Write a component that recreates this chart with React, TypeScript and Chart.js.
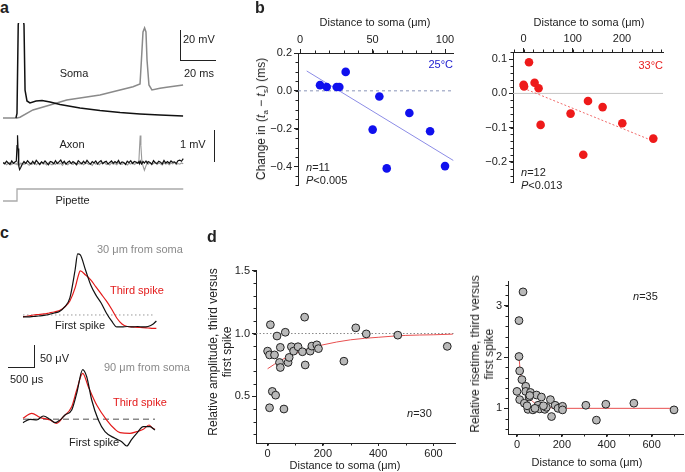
import React, { useEffect, useRef } from "react";
import { Chart, registerables } from "chart.js";

Chart.register(...registerables);

const FONT = '"Liberation Sans", Arial, Helvetica, sans-serif';
Chart.defaults.font.family = FONT;
Chart.defaults.color = "#222";

// ---------------- Panel a: soma traces (ms, mV) ----------------
const somaBlackT = [7.4, 8.0, 8.7, 10.3, 12.0, 12.6, 13.7, 15.4, 18.9, 22.3, 26.9, 32.6, 44, 55.4, 66.9, 78.3, 89.7, 102.9];
const somaBlackV = [-70, -67, -10, 5, -10, -52, -59, -60.3, -59, -58.7, -59.7, -61.3, -63.5, -65.2, -66.5, -67.4, -68.1, -68.7];
const somaGrayT = [0, 8, 9.7, 17.1, 26.9, 36.4, 55.4, 74.3, 78.3, 79.1, 80.0, 80.9, 81.7, 82.3, 83.4, 85.1, 89.7, 93.5, 102.9];
const somaGrayV = [-70, -70, -69.5, -64.8, -61.6, -58.4, -55.2, -49.8, -48.1, -32.6, -14.5, -11.9, -14.5, -32.6, -48.7, -51.9, -50.8, -50.2, -48.7];

// ---------------- Panel a: axon traces (ms, µV) ----------------
const axonT = [
  0, 1, 2, 3, 4, 5, 6, 7,
  7.6, 8.0, 8.3, 8.6, 9.0, 9.5, 10.2, 11,
  12, 13, 14, 15, 16, 17, 18, 19, 20, 21, 22, 23, 24, 25, 26, 27, 28, 29, 30, 31, 32, 33, 34, 35, 36, 37, 38, 39, 40, 41,
  42, 43, 44, 45, 46, 47, 48, 49, 50, 51, 52, 53, 54, 55, 56, 57, 58, 59, 60, 61, 62, 63, 64, 65, 66, 67, 68, 69, 70, 71,
  72, 73, 74, 75, 76, 77,
  77.6, 78.0, 78.4, 78.8, 79.3, 80, 80.8, 81.7, 82.5,
  83, 84, 85, 86, 87, 88, 89, 90, 91, 92, 93, 94, 95, 96, 97, 98, 99, 100, 101, 102, 103,
];
const axonBlack = [
  20, -30, 60, 0, -50, 70, -10, 40,
  60, 600, 960, 500, -100, -230, -150, -40,
  50, -20, 80, 10, -40, 60, -30, 90, 20, -50,
  40, -10, 70, 0, -60, 50, 30, -30, 80, -20,
  40, 100, -10, 60, -40, 30, 70, -20, 50, 0,
  -50, 80, 20, -30, 60, -10, 90, 10, -40, 50,
  0, 70, -30, 40, 80, -20, 30, 60, -40, 20,
  70, -10, 50, 0, 90, -30, 40, 20, -50, 60,
  10, 80, -20, 50, 30, -10,
  40, -20, 60, 10, -30, 50, 0, 70, -10,
  50, 20, -40, 80, 10, -20, 60, 30, -30, 90, 0, 50, -10, 70, 20, 40, -20, 80, 100, 60, 150,
];
const axonGray = [
  -30, 10, -60, -20, 20, -50, 0, -40,
  -20, -60, 10, -40, -10, -70, 0, -30,
  -50, 10, -30, -80, 0, -40, 20, -60, -10, -50,
  30, -40, -20, -70, 10, -30, -60, 0, -50, 20,
  -40, -10, -80, 10, -30, -60, 0, -20, -50, 20,
  -70, -10, -40, 10, -60, -20, 0, -50, -30, -80,
  10, -40, -20, -60, 0, -30, 20, -50, -10, -70,
  0, -40, -20, -60, 10, -30, -50, 0, -20, -70,
  -10, -40, 20, -50, -20, 30,
  0, 500, 950, 600, 100, -100, -250, -100, 20,
  -40, 10, -60, -20, 20, -50, 0, -30, -70, 10, -40, -10, -60, 0, -30, 20, -50, -20, -40, 0, -30,
];

// ---------------- Panel a: pipette step ----------------
const pipetteT = [0, 8, 8, 103];
const pipetteI = [0, 0, 1, 1];

// ---------------- Panel b: 25 °C ----------------
const b25X = [13.8, 18.4, 25.3, 27.1, 31.5, 50.1, 54.7, 59.8, 75.4, 89.7, 100];
const b25Y = [0.03, 0.02, 0.02, 0.02, 0.1, -0.205, -0.03, -0.41, -0.117, -0.214, -0.398];
const b25FitX = [4.6, 105.7];
const b25FitY = [0.105, -0.368];
const b25XTicks = [0, 50, 100];
const b25YTicks = [-0.4, -0.2, 0, 0.2];

// ---------------- Panel b: 33 °C ----------------
const b33X = [0, 1, 11, 22.4, 30.5, 34.6, 95.5, 121.3, 130.9, 160.6, 200.6, 263.6];
const b33Y = [0.025, 0.02, 0.091, 0.031, 0.015, -0.092, -0.059, -0.179, -0.022, -0.04, -0.087, -0.132];
const b33FitX = [0, 258];
const b33FitY = [0.015, -0.136];
const b33XTicks = [0, 100, 200];
const b33YTicks = [-0.2, -0.1, 0, 0.1];

// ---------------- Panel c: spike waveforms (µs, µV) ----------------
const cTopT = [0, 100, 200, 300, 400, 500, 600, 700, 800, 900, 1000, 1050, 1100, 1200, 1300, 1400, 1500, 1600, 1700, 1800, 1900, 2000, 2100, 2200, 2300, 2400, 2500, 2560];
const cTopBlack = [-4.5, -4.5, -3.4, -2.3, -1.1, 1.1, 4.5, 7.9, 18.2, 38.6, 102, 138.5, 136, 102, 68, 45, 27, 4.5, -13.6, -27.2, -27.2, -26.1, -27.2, -26.1, -27.2, -26.1, -20.4, -13.6];
const cTopRed = [-3.9, -2.3, 0, 1.1, 2.3, 4.5, 6.8, 10.2, 18.2, 31.8, 61.3, 84, 99.9, 90.8, 79.5, 63.6, 47.7, 31.8, 13.6, -6.8, -20.4, -26.1, -27.2, -27.9, -28.8, -29.5, -30.2, -30.2];
const cBotBlackT = [0, 134, 263, 390, 518, 614, 710, 806, 935, 1031, 1146, 1223, 1319, 1446, 1574, 1766, 1895, 1991, 2087, 2183, 2310, 2438, 2534];
const cBotBlack = [-7.7, 0, -1.6, 7.5, 0, -7.7, -1.6, 9.8, 21.1, 59, 113, 96.7, 43.8, -1.6, -28.1, -43.1, -50.8, -60.6, -45.4, -31.8, -16.8, -16.8, -24.3];
const cBotRedT = [0, 167, 326, 518, 647, 774, 935, 1031, 1146, 1254, 1415, 1607, 1766, 1862, 2054, 2183, 2310, 2419, 2490, 2534];
const cBotRed = [2.3, 13.6, 4.5, -1.6, -9.1, 5.9, 28.6, 66.5, 104.4, 74, 32.5, -1.6, -22.7, -30.4, -31.8, -28.1, -22.7, -12.9, -20.4, -22.7];

// ---------------- Panel d: relative amplitude ----------------
const ampX = [0, 10, 7, 25, 34, 64, 46, 43, 46, 17, 29, 7, 59, 74, 78, 86, 94, 110, 126, 134, 136, 154, 160, 178, 184, 276, 319, 357, 471, 650];
const ampY = [0.86, 1.07, 0.83, 0.83, 0.98, 1.01, 0.89, 0.77, 0.73, 0.54, 0.51, 0.41, 0.40, 0.77, 0.81, 0.895, 0.86, 0.895, 0.855, 1.13, 0.75, 0.86, 0.90, 0.91, 0.88, 0.78, 1.045, 0.997, 0.987, 0.898];
const ampFitX = [0, 50, 100, 150, 200, 300, 400, 500, 600, 670];
const ampFitY = [0.72, 0.79, 0.84, 0.88, 0.91, 0.95, 0.97, 0.985, 0.99, 0.995];
const ampXTicks = [0, 200, 400, 600];
const ampYTicks = [0.5, 1.0, 1.5];

// ---------------- Panel d: relative risetime ----------------
const riseX = [27, 9, 9, 12, 22, 0, 12, 39, 39, 33, 49, 60, 54, 71, 87, 109, 94, 101, 124, 131, 149, 154, 170, 183, 203, 203, 307, 354, 396, 521, 700, 57, 45, 80, 118];
const riseY = [3.27, 2.71, 2.01, 1.73, 1.56, 1.33, 1.17, 1.43, 1.33, 1.10, 0.98, 1.31, 1.22, 0.97, 1.26, 1.22, 1.06, 0.99, 0.98, 1.02, 1.17, 0.84, 1.06, 1.00, 1.04, 0.97, 1.06, 0.77, 1.08, 1.10, 0.97, 1.25, 1.05, 1.0, 1.05];
const riseFitX = [9, 15, 25, 40, 60, 80, 100, 130, 160, 200, 300, 700];
const riseFitY = [2.0, 1.72, 1.52, 1.33, 1.18, 1.1, 1.05, 1.02, 1.01, 1.0, 1.0, 1.0];
const riseXTicks = [0, 200, 400, 600];
const riseYTicks = [1, 2, 3];

// ---------------- helpers ----------------
const zip = (xs: number[], ys: number[]) => xs.map((x, i) => ({ x, y: ys[i] }));

const minorTickPlugin = {
  id: "minorTicks",
  afterDraw(chart: any, _args: any, opts: any) {
    const ctx = chart.ctx;
    const area = chart.chartArea;
    ctx.save();
    ctx.strokeStyle = "#222";
    ctx.lineWidth = 1;
    for (const id of ["x", "y"]) {
      const step = opts[id];
      if (!step) continue;
      const s = chart.scales[id];
      for (let i = Math.ceil(s.min / step - 1e-9); i * step <= s.max + 1e-9; i++) {
        const p = Math.round(s.getPixelForValue(i * step)) + 0.5;
        ctx.beginPath();
        if (s.isHorizontal()) {
          const top = s.position === "top";
          const y0 = top ? area.top : area.bottom;
          ctx.moveTo(p, y0);
          ctx.lineTo(p, y0 + (top ? -1 : 1) * opts.len);
        } else {
          ctx.moveTo(area.left, p);
          ctx.lineTo(area.left - opts.len, p);
        }
        ctx.stroke();
      }
    }
    ctx.restore();
  },
};

function axis(kind: string, position: string, min: number, max: number, ticks: number[], fmt: (v: number) => string, size: number, tickLen = 4, pad = 2) {
  return {
    type: "linear",
    position,
    min,
    max,
    afterBuildTicks: (s: any) => {
      s.ticks = ticks.map((v) => ({ value: v }));
    },
    afterFit: (s: any) => {
      if (kind === "x") s.height = size;
      else s.width = size;
    },
    ticks: { callback: (v: any) => fmt(Number(v)), font: { size: 11, family: FONT }, color: "#222", padding: pad, maxRotation: 0, autoSkip: false },
    grid: { display: true, drawOnChartArea: false, drawTicks: true, tickLength: tickLen, color: "#222", lineWidth: 1 },
    border: { display: true, color: "#222", width: 1 },
  };
}

const fmt1 = (v: number) => (Math.round(v * 10) / 10).toFixed(1).replace("-", "\u2212");
const fmt0 = (v: number) => String(Math.round(v));

function scatterCfg(p: any) {
  return {
    type: "scatter",
    data: { datasets: p.datasets },
    options: {
      animation: false,
      responsive: false,
      events: [],
      layout: { autoPadding: false, padding: p.padding },
      plugins: { legend: { display: false }, tooltip: { enabled: false }, minorTicks: p.minor },
      scales: {
        x: axis("x", p.xPos, p.xMin, p.xMax, p.xTicks, p.xFmt, p.xH, p.xTickLen, p.xPad),
        y: axis("y", "left", p.yMin, p.yMax, p.yTicks, p.yFmt, p.yW),
      },
    },
    plugins: [minorTickPlugin],
  };
}

function traceCfg(datasets: any[], xMin: number, xMax: number, yMin: number, yMax: number) {
  return {
    type: "line",
    data: { datasets },
    options: {
      animation: false,
      responsive: false,
      events: [],
      layout: { autoPadding: false, padding: 0 },
      plugins: { legend: { display: false }, tooltip: { enabled: false } },
      scales: {
        x: { type: "linear", display: false, min: xMin, max: xMax },
        y: { type: "linear", display: false, min: yMin, max: yMax },
      },
    },
  };
}

const trace = (xs: number[], ys: number[], color: string, width = 1.3, tension = 0, dash: number[] = []) => ({
  data: zip(xs, ys),
  borderColor: color,
  borderWidth: width,
  borderDash: dash,
  pointRadius: 0,
  tension,
  cubicInterpolationMode: tension ? "monotone" : "default",
  fill: false,
});

const refLine = (xs: number[], ys: number[], color: string, width: number, dash: number[] = [], tension = 0) => ({
  data: zip(xs, ys),
  showLine: true,
  borderColor: color,
  borderWidth: width,
  borderDash: dash,
  pointRadius: 0,
  tension,
  cubicInterpolationMode: tension ? "monotone" : "default",
  clip: false,
});

const dots = (xs: number[], ys: number[], fill: string, border: string, bw: number, r: number) => ({
  data: zip(xs, ys),
  backgroundColor: fill,
  borderColor: border,
  borderWidth: bw,
  pointRadius: r,
  clip: false,
});

function ChartBox({ left, top, width, height, make }: any) {
  const ref = useRef<HTMLCanvasElement | null>(null);
  useEffect(() => {
    const ch = new Chart(ref.current as HTMLCanvasElement, make());
    return () => ch.destroy();
  }, []);
  return <canvas ref={ref} width={width} height={height} style={{ position: "absolute", left, top, width, height }} />;
}

function T({ x, y, children, size = 11, color = "#222", align = "left", weight = 400 }: any) {
  const tx = align === "left" ? "0" : align === "center" ? "-50%" : "-100%";
  return (
    <div style={{ position: "absolute", left: x, top: y, transform: `translate(${tx},-50%)`, fontFamily: FONT, fontSize: size, lineHeight: 1, color, fontWeight: weight, whiteSpace: "nowrap" }}>
      {children}
    </div>
  );
}

function RT({ x, y, children, lh = 14, size = 12 }: any) {
  return (
    <div style={{ position: "absolute", left: x, top: y, transform: "translate(-50%,-50%) rotate(-90deg)", fontFamily: FONT, fontSize: size, lineHeight: `${lh}px`, color: "#222", textAlign: "center", whiteSpace: "nowrap" }}>
      {children}
    </div>
  );
}

function L({ x, y, w, h, color = "#222" }: any) {
  return <div style={{ position: "absolute", left: x, top: y, width: w, height: h, background: color }} />;
}

const Sub = ({ children }: any) => <span style={{ fontSize: 8, position: "relative", top: 3 }}>{children}</span>;

export default function App() {
  return (
    <div style={{ position: "absolute", left: 0, top: 0, width: 685, height: 472, background: "#fff", overflow: "hidden", fontFamily: FONT }}>
      {/* ---------- panel a ---------- */}
      <ChartBox left={3} top={23} width={182} height={102}
        make={() => traceCfg([trace(somaBlackT, somaBlackV, "#111", 1.5), trace(somaGrayT, somaGrayV, "#8a8a8a", 1.5)], 0, 104, -74.5, -8.7)} />
      <ChartBox left={3} top={128} width={182} height={47}
        make={() => traceCfg([trace(axonT, axonBlack, "#111", 1.2), trace(axonT, axonGray, "#999", 1.1)], 0, 104, -414, 1207)} />
      <ChartBox left={3} top={183} width={182} height={22}
        make={() => traceCfg([trace(pipetteT, pipetteI, "#aaa", 1.3)], 0, 104, -0.333, 1.5)} />

      {/* ---------- panel b 25C ---------- */}
      <ChartBox left={258} top={23} width={201} height={171}
        make={() => scatterCfg({
          datasets: [
            dots(b25X, b25Y, "#1010ee", "#1010ee", 0, 4.3),
            refLine(b25FitX, b25FitY, "#8c8ce6", 1),
            refLine([-1.4, 105.5], [0, 0], "#8a94b8", 1, [3, 3]),
          ],
          padding: { left: 0, top: 0, right: 6, bottom: 8 },
          xPos: "top", xMin: -1.4, xMax: 105.5, xTicks: b25XTicks, xFmt: fmt0, xH: 30,
          yMin: -0.5, yMax: 0.2, yTicks: b25YTicks, yFmt: fmt1, yW: 40,
          minor: { x: 10, y: 0.05, len: 2.5 },
        })} />

      {/* ---------- panel b 33C ---------- */}
      <ChartBox left={473} top={22} width={196} height={169}
        make={() => scatterCfg({
          datasets: [
            dots(b33X, b33Y, "#ee1a1a", "#ee1a1a", 0, 4.3),
            refLine(b33FitX, b33FitY, "#f06a6a", 1, [2, 2]),
            refLine([-21.5, 283.3], [0, 0], "#c4c4c4", 1),
          ],
          padding: { left: 0, top: 0, right: 6, bottom: 8 },
          xPos: "top", xMin: -21.5, xMax: 283.3, xTicks: b33XTicks, xFmt: fmt0, xH: 30,
          yMin: -0.26, yMax: 0.121, yTicks: b33YTicks, yFmt: fmt1, yW: 40,
          minor: { x: 20, y: 0.02, len: 2.5 },
        })} />

      {/* ---------- panel c ---------- */}
      <ChartBox left={20} top={240} width={140} height={95}
        make={() => traceCfg([
          trace(cTopT, cTopBlack, "#111", 1.2, 0.4),
          trace(cTopT, cTopRed, "#e31a1a", 1.2, 0.4),
          trace([0, 2534], [0, 0], "#9a9a9a", 1, 0, [1.5, 2.5]),
        ], -57.6, 2630, -45.4, 170)} />
      <ChartBox left={20} top={355} width={140} height={100}
        make={() => traceCfg([
          trace(cBotBlackT, cBotBlack, "#111", 1.2, 0.4),
          trace(cBotRedT, cBotRed, "#e31a1a", 1.2, 0.4),
          trace([0, 2534], [0, 0], "#8a8a8a", 1.4, 0, [6, 4]),
        ], -57.6, 2630, -81, 146)} />

      {/* ---------- panel d amplitude ---------- */}
      <ChartBox left={216} top={262} width={245} height={209}
        make={() => scatterCfg({
          datasets: [
            dots(ampX, ampY, "#b9b9b9", "#222", 1, 3.9),
            refLine(ampFitX, ampFitY, "#e85050", 1, [], 0.4),
            refLine([-42, 678], [1, 1], "#8a8a8a", 1, [1.5, 2]),
          ],
          padding: { left: 0, top: 6, right: 6, bottom: 0 },
          xPos: "bottom", xMin: -42, xMax: 678, xTicks: ampXTicks, xFmt: fmt0, xH: 28, xTickLen: 3, xPad: 1,
          yMin: 0.13, yMax: 1.5, yTicks: ampYTicks, yFmt: fmt1, yW: 40,
          minor: { x: 100, y: 0.1, len: 2.5 },
        })} />

      {/* ---------- panel d risetime ---------- */}
      <ChartBox left={468} top={273} width={217} height={189}
        make={() => scatterCfg({
          datasets: [
            dots(riseX, riseY, "#b9b9b9", "#222", 1, 3.9),
            refLine(riseFitX, riseFitY, "#e85050", 1, [], 0.4),
          ],
          padding: { left: 0, top: 6, right: 2, bottom: 0 },
          xPos: "bottom", xMin: -40, xMax: 740, xTicks: riseXTicks, xFmt: fmt0, xH: 28, xTickLen: 3, xPad: 1,
          yMin: 0.5, yMax: 3.47, yTicks: riseYTicks, yFmt: fmt0, yW: 40,
          minor: { x: 100, y: 0.2, len: 2.5 },
        })} />

      {/* ---------- texts & scale bars ---------- */}
      <T x={0} y={8} size={16} weight={700}>a</T>
      <T x={74} y={72.5} align="center">Soma</T>
      <L x={180} y={30} w={1} h={31} />
      <L x={180} y={60} w={36} h={1} />
      <T x={183} y={39}>20 mV</T>
      <T x={184} y={72.5}>20 ms</T>
      <T x={72} y={144} align="center">Axon</T>
      <T x={180} y={144}>1 mV</T>
      <L x={213.5} y={130} w={1} h={32} />
      <T x={72.5} y={200} align="center">Pipette</T>

      <T x={255} y={7.5} size={16} weight={700}>b</T>
      <T x={375} y={22} align="center">Distance to soma (μm)</T>
      <T x={453} y={64} align="right" color="#2020d0">25°C</T>
      <T x={306} y={166.5}><i>n</i>=11</T>
      <T x={306} y={180}><i>P</i>&lt;0.005</T>
      <RT x={262} y={119}>Change in (<i>t</i><Sub>a</Sub> − <i>t</i><Sub>s</Sub>) (ms)</RT>
      <T x={589} y={22} align="center">Distance to soma (μm)</T>
      <T x={663} y={65} align="right" color="#e82020">33°C</T>
      <T x={521} y={171.5}><i>n</i>=12</T>
      <T x={521} y={185}><i>P</i>&lt;0.013</T>

      <T x={0} y={233} size={16} weight={700}>c</T>
      <T x={97} y={249} color="#8a8a8a">30 μm from soma</T>
      <T x={110} y={290} color="#e31a1a">Third spike</T>
      <T x={55} y={324.5}>First spike</T>
      <L x={33.5} y={345} w={1} h={22} />
      <L x={8} y={366.5} w={26.5} h={1} />
      <T x={40} y={358}>50 μV</T>
      <T x={10} y={379}>500 μs</T>
      <T x={104} y={367} color="#8a8a8a">90 μm from soma</T>
      <T x={113} y={401.5} color="#e31a1a">Third spike</T>
      <T x={69} y={441.5}>First spike</T>

      <T x={207} y={237} size={16} weight={700}>d</T>
      <RT x={219.5} y={352}>Relative amplitude, third versus<br />first spike</RT>
      <T x={345} y={465} align="center">Distance to soma (μm)</T>
      <T x={407} y={412.5}><i>n</i>=30</T>
      <RT x={482} y={354}>Relative risetime, third versus<br />first spike</RT>
      <T x={587} y={462} align="center">Distance to soma (μm)</T>
      <T x={633} y={296}><i>n</i>=35</T>
    </div>
  );
}
